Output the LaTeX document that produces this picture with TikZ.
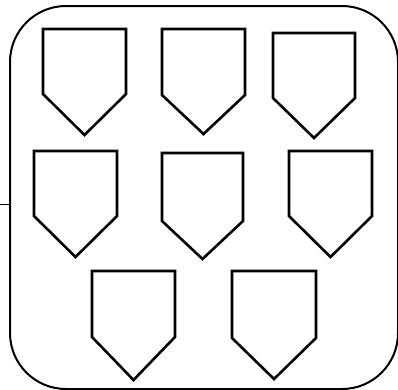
\documentclass[tikz,border=0pt]{standalone}
\begin{document}
\begin{tikzpicture}[x=1pt,y=-1pt,
  plate/.style={draw=black,line width=2.6pt,line join=miter,fill=white},
  outerbox/.style={draw=black,line width=2pt,rounded corners=56pt,minimum width=388pt,minimum height=383pt,inner sep=0pt},
  stub/.style={draw=black,line width=1pt}]
\useasboundingbox (0,0) rectangle (398,389);
\node[outerbox,anchor=north west] (box) at (9,5) {};
\coordinate (stubend) at (0,204);
\draw[stub] (stubend) -- (stubend -| box.west);
% plates: left,right,top,shoulder,tip
\foreach \l/\r/\t/\s/\p [count=\i] in {43/126/29/94/135, 162/245/29/95/134, 273/355/33/98/138,
  34/117/151/216/257, 162/243/153/221/259, 289/372/151/216/257,
  92/175/271/337/380, 232/316/271/338/379}{
  \draw[plate] (\l,\t) -- (\r,\t) -- (\r,\s) -- ({(\l+\r)/2},\p) -- (\l,\s) -- cycle;
}
\end{tikzpicture}
\end{document}
